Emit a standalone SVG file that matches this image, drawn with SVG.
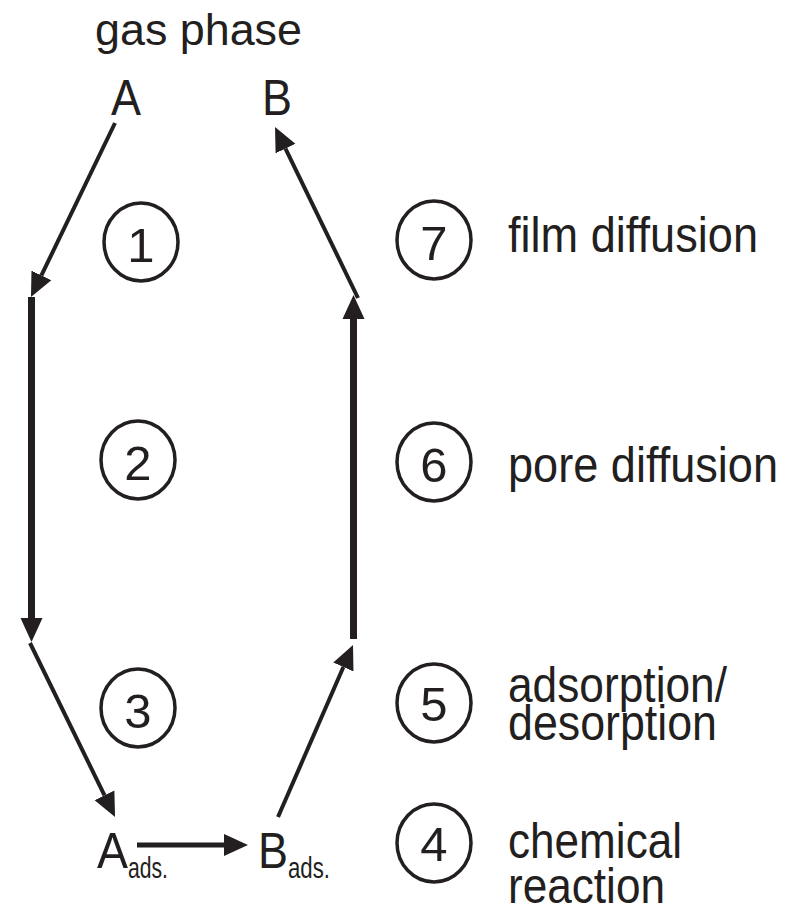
<svg xmlns="http://www.w3.org/2000/svg" width="788" height="923" viewBox="0 0 788 923">
<style>
  text { font-family: "Liberation Sans", Arial, sans-serif; fill: #231f20; }
  .big { font-size: 50px; }
  .num { font-size: 49px; text-anchor: middle; }
  .sub { font-size: 29px; }
  .ring { fill: none; stroke: #231f20; stroke-width: 3.5; }
  .thin { fill: none; stroke: #231f20; stroke-width: 4; }
  .thick { fill: none; stroke: #231f20; stroke-width: 7; }
</style>
<defs>
  <marker id="ah" markerUnits="userSpaceOnUse" markerWidth="26" markerHeight="24" refX="0" refY="11" orient="auto" viewBox="0 0 26 22">
    <path d="M0,0 L24,11 L0,22 z" fill="#231f20"/>
  </marker>
</defs>
<rect width="788" height="923" fill="#ffffff"/>
<g id="gas-phase"><text x="95" y="45" style="font-size:45px" textLength="207" lengthAdjust="spacingAndGlyphs">gas phase</text></g>
<g id="node-A"><text class="big" x="111" y="115" textLength="30" lengthAdjust="spacingAndGlyphs">A</text></g>
<g id="node-B"><text class="big" x="262" y="115" textLength="30" lengthAdjust="spacingAndGlyphs">B</text></g>
<g id="node-Aads"><text class="big" x="97" y="868" textLength="31" lengthAdjust="spacingAndGlyphs">A</text><text class="sub" x="128" y="878" textLength="40" lengthAdjust="spacingAndGlyphs">ads.</text></g>
<g id="node-Bads"><text class="big" x="258" y="868" textLength="30" lengthAdjust="spacingAndGlyphs">B</text><text class="sub" x="288" y="878" textLength="42" lengthAdjust="spacingAndGlyphs">ads.</text></g>
<g id="connectors">
  <line class="thin" x1="115" y1="123" x2="41.4" y2="275.4" marker-end="url(#ah)"/>
  <line class="thick" x1="31.5" y1="297" x2="31.5" y2="618" marker-end="url(#ah)"/>
  <line class="thin" x1="30" y1="643" x2="104.5" y2="795.4" marker-end="url(#ah)"/>
  <line class="thin" x1="137" y1="845" x2="224" y2="845" style="stroke-width:5" marker-end="url(#ah)"/>
  <line class="thin" x1="278" y1="817" x2="343.4" y2="667" marker-end="url(#ah)"/>
  <line class="thick" x1="353.5" y1="639" x2="353.5" y2="319" marker-end="url(#ah)"/>
  <line class="thin" x1="358" y1="298" x2="285.5" y2="148.6" marker-end="url(#ah)"/>
</g>
<g id="step-1"><ellipse class="ring" cx="141" cy="242" rx="37" ry="39"/><text class="num" x="141" y="262">1</text></g>
<g id="step-2"><ellipse class="ring" cx="138" cy="460" rx="37" ry="39"/><text class="num" x="138" y="480">2</text></g>
<g id="step-3"><ellipse class="ring" cx="138" cy="708" rx="37" ry="39"/><text class="num" x="138" y="728">3</text></g>
<g id="step-7"><ellipse class="ring" cx="434" cy="240" rx="37" ry="39"/><text class="num" x="434" y="260">7</text><text class="big" x="508" y="252" textLength="250" lengthAdjust="spacingAndGlyphs">film diffusion</text></g>
<g id="step-6"><ellipse class="ring" cx="434" cy="462" rx="37" ry="39"/><text class="num" x="434" y="482">6</text><text class="big" x="508" y="482" textLength="270" lengthAdjust="spacingAndGlyphs">pore diffusion</text></g>
<g id="step-5"><ellipse class="ring" cx="434" cy="703" rx="37" ry="39"/><text class="num" x="434" y="721">5</text><text class="big" x="508" y="702" textLength="219" lengthAdjust="spacingAndGlyphs">adsorption/</text><text class="big" x="508" y="740" textLength="209" lengthAdjust="spacingAndGlyphs">desorption</text></g>
<g id="step-4"><ellipse class="ring" cx="434" cy="843" rx="37" ry="39"/><text class="num" x="434" y="861">4</text><text class="big" x="508" y="858" textLength="174" lengthAdjust="spacingAndGlyphs">chemical</text><text class="big" x="508" y="903" textLength="157" lengthAdjust="spacingAndGlyphs">reaction</text></g>
</svg>
